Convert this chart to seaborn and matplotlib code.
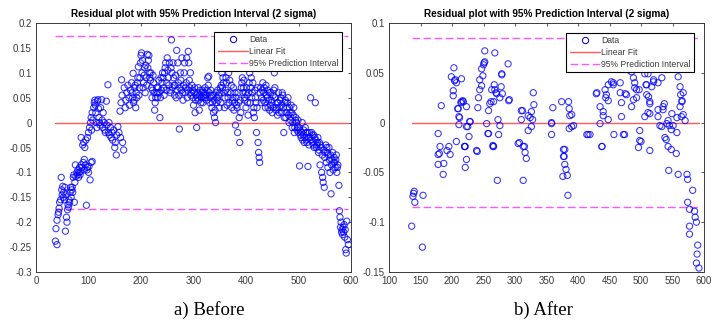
import matplotlib
matplotlib.use("Agg")
import matplotlib.pyplot as plt
import seaborn as sns
import pandas as pd
from matplotlib.lines import Line2D

# ---------------- data: a) Before ----------------
before_x = [37,40,38,40,42,43,44,45,47,48,49,50,51,52,53,54,55,56,57,58,59,60,61,62,63,64,65,66,67,68,69,70,71,72,73,74,75,76,78,79,80,81,82,83,84,85,86,88,90,92,94,96,97,98,100,101,103,105,107,
    86,89,91,93,95,92,98,100,102,104,105,106,107,108,110,111,112,113,114,115,116,117,118,119,120,121,122,123,125,126,127,128,130,131,132,134,135,137,138,139,140,142,143,145,146,148,150,151,153,154,156,158,160,161,162,163,164,165,167,168,170,171,173,175,177,178,180,182,184,185,186,188,190,191,193,195,196,198,200,201,202,204,205,207,208,210,212,213,215,216,218,220,222,223,225,226,228,230,232,234,236,237,239,240,242,244,245,247,248,250,251,253,254,256,258,259,260,262,264,265,267,268,270,271,273,274,275,277,278,280,281,283,284,286,288,290,291,293,294,296,297,299,300,302,303,305,306,308,310,311,313,315,316,318,320,322,323,325,327,329,330,332,334,336,338,340,342,343,345,347,349,350,352,354,355,357,359,360,362,364,365,367,368,370,372,373,375,377,379,380,382,384,386,388,390,392,393,395,397,399,400,402,404,406,408,410,412,414,416,418,420,421,423,424,425,426,428,430,432,434,436,438,440,442,444,446,448,450,452,454,455,457,459,460,462,464,466,468,470,472,474,476,478,480,482,484,486,488,490,492,494,496,498,500,502,503,505,507,509,511,513,515,517,518,520,522,523,525,527,529,530,532,533,535,537,538,540,541,543,544,545,546,547,548,549,550,552,553,555,556,558,559,560,561,562,563,565,566,568,569,570,572,573,575,577,578,579,580,581,582,583,584,585,586,587,588,589,590,591,592,593,595,
    183,187,189,192,194,197,199,203,206,209,211,214,217,219,221,224,227,229,231,233,235,238,241,243,246,249,252,255,257,261,263,266,269,272,276,279,282,285,287,289,292,295,298,301,304,307,309,312,314,317,319,321,324,326,328,331,333,335,337,339,341,344,346,348,351,353,356,358,361,363,366,369,371,374,376,378,381,383,385,387,389,391,394,396,398,401,403,405,407,409,411,413,415,417,419,422,427,429,431,433,435,437,439,441,443,445,447,449,451,453,456,458,461,463,465,467,469,471,473,475,477,479,481,483,485,487,489,491,493,495,497,499,501,504,506,508,510,512,514,516,519,521,524,526,528,531,534,536,539,542,551,554,557,564,567,571,574]
before_y = [-0.238,-0.245,-0.213,-0.196,-0.185,-0.18,-0.172,-0.16,-0.155,-0.11,-0.135,-0.145,-0.128,-0.15,-0.14,-0.155,-0.13,-0.218,-0.145,-0.19,-0.2,-0.175,-0.165,-0.17,-0.155,-0.16,-0.14,-0.13,-0.15,-0.135,-0.13,-0.14,-0.11,-0.105,-0.16,-0.12,-0.085,-0.108,-0.1,-0.105,-0.095,-0.11,-0.1,-0.09,-0.105,-0.098,-0.085,-0.09,-0.08,-0.095,-0.085,-0.166,-0.095,-0.09,-0.1,-0.088,-0.115,-0.08,-0.078,
    -0.03,-0.045,-0.04,-0.05,-0.035,-0.074,-0.03,-0.02,-0.01,0.0,0.01,-0.015,0.02,0.005,0.03,0.04,0.045,0.035,0.02,0.0,-0.01,0.043,0.046,0.028,0.01,0.0,-0.005,0.03,0.046,0.005,-0.01,0.02,0.0,-0.015,-0.02,0.043,-0.005,0.076,-0.02,0.0,-0.025,-0.01,-0.03,-0.02,-0.035,-0.015,-0.05,-0.04,-0.065,-0.025,-0.008,-0.02,0.023,-0.03,0.04,0.086,0.055,-0.04,-0.055,0.07,0.03,0.045,0.06,0.075,0.05,0.035,0.065,0.08,0.05,0.099,0.04,0.07,0.03,0.06,0.08,0.112,0.055,0.09,0.135,0.14,0.1,0.07,0.08,0.11,0.06,0.09,0.137,0.11,0.135,0.1,0.085,0.07,0.065,0.095,0.06,0.025,0.05,0.07,0.06,0.085,0.01,0.05,0.065,0.08,0.09,0.055,0.1,0.12,0.065,0.13,0.105,0.075,0.12,0.06,0.166,0.1,0.07,0.09,0.055,0.075,0.05,0.145,0.12,0.08,-0.013,0.07,0.1,0.065,0.13,0.045,0.075,0.12,0.06,0.08,0.05,0.143,0.12,0.07,0.1,0.06,0.075,0.05,0.035,0.07,0.02,0.055,-0.01,0.06,0.045,0.025,0.065,0.05,0.06,0.04,0.055,0.07,0.05,0.045,0.09,0.093,0.06,0.05,0.055,0.04,0.02,0.01,0.0,0.06,0.05,0.045,0.03,0.06,0.04,0.1,0.07,0.08,0.03,0.05,0.09,0.035,0.06,0.1,0.04,0.12,0.075,0.03,0.05,0.025,0.06,-0.005,0.035,-0.02,0.04,-0.04,0.02,0.08,0.09,0.07,0.05,0.06,0.03,0.055,0.015,0.08,0.04,0.09,0.06,0.02,0.01,0.05,-0.02,0.03,-0.04,-0.06,-0.07,-0.08,0.07,0.05,0.08,0.06,0.04,0.075,0.05,0.03,0.06,0.035,0.045,0.02,0.055,0.1,0.07,0.025,0.04,0.015,0.06,0.03,0.05,0.02,0.055,-0.02,0.04,0.01,0.03,0.05,0.0,0.02,0.035,-0.01,0.015,-0.02,0.005,0.0,-0.01,-0.02,-0.087,-0.015,-0.03,0.0,-0.025,-0.04,-0.01,-0.035,-0.02,-0.088,-0.045,-0.03,0.05,-0.02,-0.04,-0.025,-0.05,0.04,-0.035,-0.045,-0.03,-0.06,-0.04,-0.085,-0.05,-0.1,-0.065,-0.11,-0.12,-0.055,-0.13,-0.07,-0.045,-0.08,-0.06,-0.09,-0.05,-0.075,-0.1,-0.065,-0.143,-0.085,-0.06,-0.095,-0.07,-0.08,-0.09,-0.065,-0.1,-0.085,-0.126,-0.177,-0.19,-0.21,-0.2,-0.22,-0.215,-0.225,-0.21,-0.22,-0.205,-0.23,-0.215,-0.255,-0.262,-0.198,-0.235,-0.245,
    0.06,0.045,0.075,0.05,0.09,0.07,0.12,0.125,0.095,0.115,0.075,0.125,0.09,0.1,0.05,0.08,0.04,0.06,0.05,0.07,0.06,0.09,0.1,0.07,0.11,0.08,0.09,0.065,0.11,0.12,0.075,0.095,0.065,0.055,0.085,0.06,0.1,0.07,0.13,0.065,0.085,0.055,0.065,0.06,0.045,0.05,0.07,0.055,0.04,0.065,0.05,0.06,0.055,0.065,0.075,0.04,0.065,0.03,0.055,0.045,0.025,0.04,0.065,0.055,0.07,0.075,0.09,0.06,0.065,0.08,0.05,0.085,0.06,0.045,0.07,0.04,0.05,0.03,0.06,0.01,0.045,0.07,0.06,0.085,0.045,0.07,0.04,0.06,0.1,0.07,0.05,0.08,0.03,0.065,0.04,0.07,0.06,0.04,0.065,0.045,0.07,0.03,0.055,0.065,0.045,0.025,0.06,0.04,0.03,0.065,0.05,0.03,0.04,0.02,0.045,0.035,0.06,0.03,0.01,0.045,0.02,0.04,0.015,0.03,0.005,0.02,0.0,0.03,-0.01,0.01,-0.015,0.005,-0.01,-0.025,-0.02,-0.035,-0.015,-0.03,-0.02,-0.04,-0.03,-0.02,-0.035,-0.025,-0.045,-0.03,-0.05,-0.04,-0.055,-0.045,-0.06,-0.05,-0.065,-0.075,-0.08,-0.075,-0.09]
before_pi = 0.173

# ---------------- data: b) After ----------------
after_x = [136,138,140,141,139,153,154,
    178,180,181,183,178,178,186,187,192,195,197,199,202,202,203,204,205,207,207,209,210,211,211,212,214,215,215,217,218,220,221,223,223,225,227,228,229,239,241,242,244,244,247,247,249,250,251,252,252,255,257,258,258,260,262,263,265,266,266,267,268,268,270,271,273,274,276,276,278,279,279,280,289,290,291,
    305,307,310,310,312,313,315,316,318,321,321,324,326,326,328,329,330,
    358,358,360,358,374,377,377,379,378,379,381,376,383,384,385,386,387,390,393,390,386,414,416,419,
    429,430,435,435,438,440,440,443,444,445,448,448,448,453,456,456,457,467,467,469,469,472,474,475,477,480,485,485,488,488,490,490,493,493,497,498,498,496,500,506,506,508,509,509,511,511,512,514,514,514,517,520,520,527,527,527,530,533,533,535,535,537,538,540,541,543,543,545,548,548,549,551,557,557,559,562,562,563,564,565,565,567,567,570,
    220,223,221,240,265,272,313,438,514,544,556,559,573,574,582,574,577,585,586,588,577,577,590,589,588,592]
after_y = [-0.104,-0.074,-0.069,-0.08,-0.071,-0.125,-0.073,
    -0.011,-0.031,-0.024,0.017,-0.032,-0.042,-0.052,-0.041,-0.028,-0.024,-0.032,0.046,0.032,0.027,0.055,0.042,0.043,0.04,-0.019,0.014,0.014,0.006,-0.002,0.005,0.02,0.044,0.021,0.022,0.021,-0.024,-0.024,0.016,-0.004,-0.004,-0.014,0.001,0.001,-0.028,0.015,0.025,0.033,0.043,0.037,0.054,0.047,0.058,0.06,0.061,0.072,-0.001,-0.011,0.012,-0.011,0.019,0.021,0.033,-0.024,0.021,-0.024,0.038,0.07,0.033,0.03,0.029,0.003,-0.012,-0.003,0.025,0.036,0.049,0.048,0.029,0.059,0.022,0.023,
    -0.021,-0.02,0.003,0.012,0.012,-0.024,-0.024,-0.03,-0.036,-0.008,0.007,0.005,-0.004,0.011,0.003,0.03,0.018,
    -0.001,-0.012,0.015,0.0,0.021,-0.027,-0.034,-0.027,-0.034,-0.042,-0.047,-0.054,-0.053,-0.073,0.021,0.014,0.007,-0.004,-0.003,0.008,-0.006,-0.012,-0.012,-0.012,
    0.029,0.03,0.016,-0.001,-0.024,0.007,0.011,0.033,0.025,0.028,0.038,0.003,0.022,0.041,0.038,0.04,-0.012,0.04,0.03,0.02,0.006,-0.012,-0.012,0.029,0.028,0.053,0.016,0.051,0.045,0.023,0.04,0.035,0.025,0.033,0.033,-0.008,-0.018,-0.025,-0.019,0.006,0.049,0.038,0.038,0.028,0.049,0.01,0.026,0.019,0.009,0.021,0.036,0.043,0.041,0.04,0.013,0.006,-0.003,-0.004,0.045,0.016,0.013,0.019,-0.015,-0.017,-0.001,0.002,-0.024,-0.003,-0.027,-0.007,0.009,-0.003,-0.01,0.005,0.046,0.016,0.036,0.028,0.006,0.021,0.022,0.008,0.03,0.002,
    -0.024,-0.037,-0.045,-0.029,-0.023,-0.058,-0.058,-0.024,-0.028,-0.048,-0.031,-0.052,-0.052,-0.057,-0.068,-0.08,-0.087,-0.089,-0.095,-0.1,-0.104,-0.112,-0.123,-0.132,-0.141,-0.146]
after_pi = 0.085

title_text = "Residual plot with 95% Prediction Interval (2 sigma)"
legend_labels = ["Data", "Linear Fit", "95% Prediction Interval"]
captions = ["a) Before", "b) After"]
before_xticks = [0, 100, 200, 300, 400, 500, 600]
before_yticks = [0.2, 0.15, 0.1, 0.05, 0, -0.05, -0.1, -0.15, -0.2, -0.25, -0.3]
after_xticks = [100, 150, 200, 250, 300, 350, 400, 450, 500, 550, 600]
after_yticks = [0.1, 0.05, 0, -0.05, -0.1, -0.15]

# ---------------- style ----------------
sns.set_theme(style="white")
plt.rcParams["font.family"] = ["Liberation Sans", "DejaVu Sans"]
plt.rcParams["axes.unicode_minus"] = False

GRAY = "#3a3a3a"
BLUE = "#0000ff"
RED = "#ff5a5a"
MAG = "#ff55ff"

fig = plt.figure(figsize=(7.22, 3.2), dpi=100)
W, H = 722.0, 320.0
ax1 = fig.add_axes([36 / W, (H - 272) / H, 315 / W, 249 / H])
ax2 = fig.add_axes([389 / W, (H - 272) / H, 315 / W, 249 / H])


def fmt(v):
    if v == 0:
        return "0"
    s = ("%.2f" % v).rstrip("0").rstrip(".")
    return s


def draw(ax, xs, ys, pi, xlim, ylim, xticks, yticks, legend_anchor):
    df = pd.DataFrame({"x": xs, "y": ys})
    sns.scatterplot(data=df, x="x", y="y", ax=ax, marker="o", s=20,
                    linewidth=0.75, zorder=3, legend=False)
    coll = ax.collections[-1]
    coll.set_facecolor("none")
    coll.set_edgecolor(BLUE)
    coll.set_alpha(0.8)
    x0, x1 = min(xs), max(xs)
    fit = pd.DataFrame({"x": [x0, x1], "y": [0.0, 0.0]})
    sns.lineplot(data=fit, x="x", y="y", ax=ax, color=RED, linewidth=1.0, zorder=2)
    up = pd.DataFrame({"x": [x0, x1], "y": [pi, pi]})
    lo = pd.DataFrame({"x": [x0, x1], "y": [-pi, -pi]})
    for d in (up, lo):
        sns.lineplot(data=d, x="x", y="y", ax=ax, color=MAG, linewidth=1.0,
                     dashes=False, zorder=2)
        ax.lines[-1].set_dashes([5.5, 2.5])
    ax.set_xlim(*xlim)
    ax.set_ylim(*ylim)
    ax.set_xticks(xticks)
    ax.set_xticklabels([str(t) for t in xticks])
    ax.set_yticks(yticks)
    ax.set_yticklabels([fmt(t) for t in yticks])
    ax.set_xlabel("")
    ax.set_ylabel("")
    ax.tick_params(direction="in", length=2.5, width=0.6, colors=GRAY,
                   labelsize=7, top=True, right=True, pad=3)
    for sp in ax.spines.values():
        sp.set_visible(True)
        sp.set_color(GRAY)
        sp.set_linewidth(0.7)
    ax.set_title(title_text, fontsize=7.2, fontweight="bold", color="black", pad=4)
    handles = [
        Line2D([], [], linestyle="none", marker="o", markersize=4.5,
               markerfacecolor="none", markeredgecolor=BLUE, markeredgewidth=0.75),
        Line2D([], [], color=RED, linewidth=1.0),
        Line2D([], [], color=MAG, linewidth=1.0, dashes=[5.5, 2.5]),
    ]
    leg = ax.legend(handles, legend_labels, loc="upper right",
                    bbox_to_anchor=legend_anchor, bbox_transform=ax.transAxes,
                    borderaxespad=0, fontsize=6.2, frameon=True, fancybox=False,
                    framealpha=1, edgecolor="black", handlelength=3.5,
                    handletextpad=0.15, labelspacing=0.3, borderpad=0.4)
    leg.get_frame().set_linewidth(0.8)
    for t in leg.get_texts():
        t.set_color(GRAY)


draw(ax1, before_x, before_y, before_pi, (0, 600), (-0.3, 0.2),
     before_xticks, before_yticks, (1 - 9 / 315, 1 - 9 / 249))
draw(ax2, after_x, after_y, after_pi, (100, 600), (-0.15, 0.1),
     after_xticks, after_yticks, (1 - 10 / 315, 1 - 10 / 249))

fig.text(209 / W, 1 - 310 / H, captions[0], ha="center", va="center",
         fontsize=13.5, family=["Liberation Serif", "DejaVu Serif"], color="black")
fig.text(543 / W, 1 - 310 / H, captions[1], ha="center", va="center",
         fontsize=13.5, family=["Liberation Serif", "DejaVu Serif"], color="black")

fig.savefig("out.png", dpi=100)
